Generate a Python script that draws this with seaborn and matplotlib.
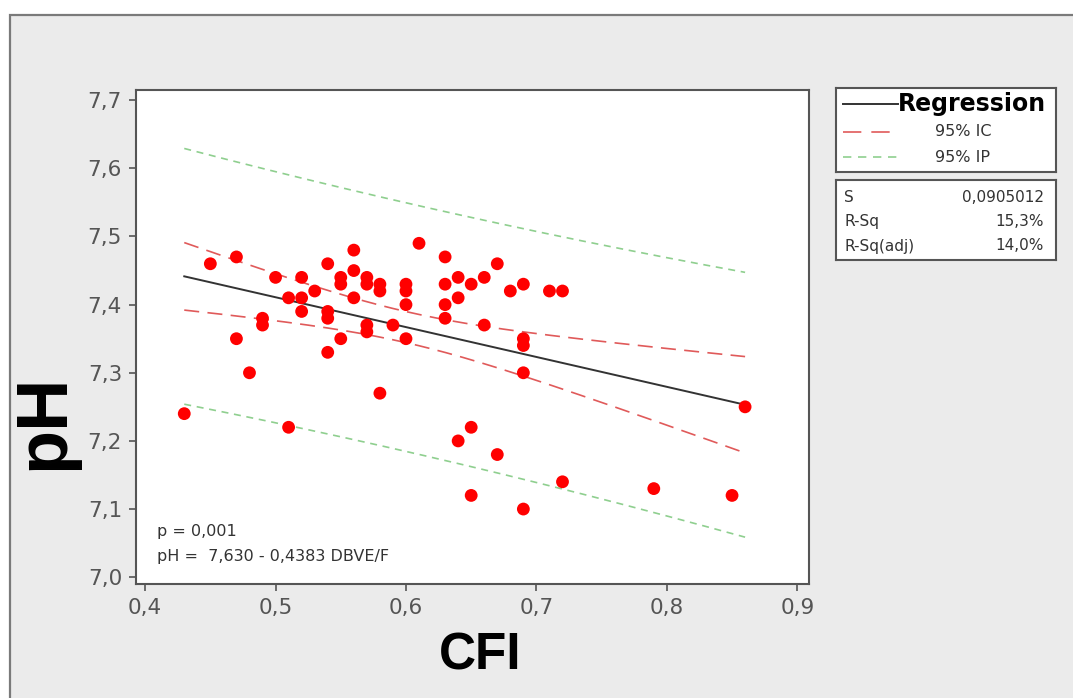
"""Scatter of pH against CFI with fitted regression line, 95% CI and 95% PI bands."""
import matplotlib
matplotlib.use("Agg")
import matplotlib.pyplot as plt
from matplotlib.patches import Rectangle
from matplotlib.ticker import FuncFormatter, MultipleLocator
import numpy as np
import pandas as pd
import seaborn as sns

# values
cfi = [0.43, 0.45, 0.47, 0.47, 0.48, 0.49, 0.49, 0.50, 0.51, 0.51,
       0.52, 0.52, 0.52, 0.53, 0.54, 0.54, 0.54, 0.54, 0.55, 0.55,
       0.55, 0.56, 0.56, 0.56, 0.57, 0.57, 0.57, 0.57, 0.58, 0.58,
       0.58, 0.59, 0.60, 0.60, 0.60, 0.60, 0.61, 0.63, 0.63, 0.63,
       0.63, 0.64, 0.64, 0.64, 0.65, 0.65, 0.65, 0.66, 0.66, 0.67,
       0.67, 0.68, 0.69, 0.69, 0.69, 0.69, 0.69, 0.71, 0.72, 0.72,
       0.79, 0.85, 0.86]
ph = [7.24, 7.46, 7.47, 7.35, 7.30, 7.38, 7.37, 7.44, 7.41, 7.22,
      7.44, 7.41, 7.39, 7.42, 7.46, 7.39, 7.38, 7.33, 7.44, 7.43,
      7.35, 7.48, 7.45, 7.41, 7.44, 7.43, 7.37, 7.36, 7.43, 7.42,
      7.27, 7.37, 7.43, 7.42, 7.40, 7.35, 7.49, 7.47, 7.43, 7.40,
      7.38, 7.44, 7.41, 7.20, 7.43, 7.22, 7.12, 7.44, 7.37, 7.46,
      7.18, 7.42, 7.43, 7.35, 7.34, 7.30, 7.10, 7.42, 7.42, 7.14,
      7.13, 7.12, 7.25]

# regression summary printed on the chart
INTERCEPT = 7.630
SLOPE = -0.4383
S_RESID = 0.0905012
T_CRIT = 2.0
stats_labels = ["S", "R-Sq", "R-Sq(adj)"]
stats_values = ["0,0905012", "15,3%", "14,0%"]

W, H = 1073, 698
RED_DASH = "#e05a5a"
GREEN_DASH = "#8fcf8f"
plt.rcParams["font.family"] = ["DejaVu Sans"]

df = pd.DataFrame({"CFI": cfi, "pH": ph})
x = df["CFI"].to_numpy()
n = len(x)
xbar = x.mean()
sxx = ((x - xbar) ** 2).sum()
grid = np.linspace(x.min(), x.max(), 200)
fit = INTERCEPT + SLOPE * grid
se_mean = S_RESID * np.sqrt(1 / n + (grid - xbar) ** 2 / sxx)
se_pred = S_RESID * np.sqrt(1 + 1 / n + (grid - xbar) ** 2 / sxx)
bands = pd.DataFrame({"x": grid, "fit": fit,
                      "ci_lo": fit - T_CRIT * se_mean, "ci_hi": fit + T_CRIT * se_mean,
                      "pi_lo": fit - T_CRIT * se_pred, "pi_hi": fit + T_CRIT * se_pred})

fig = plt.figure(figsize=(W / 100, H / 100), dpi=100, facecolor="white")
fig.patches.append(Rectangle((10 / W, -0.01), 1.0, 1 - 15 / H + 0.01, transform=fig.transFigure,
                             facecolor="#ebebeb", edgecolor="#7a7a7a", linewidth=1.6, zorder=-5))

ax = fig.add_axes([136 / W, (H - 584) / H, (809 - 136) / W, (584 - 90) / H])
ax.set_facecolor("white")

sns.lineplot(data=bands, x="x", y="pi_hi", ax=ax, color=GREEN_DASH, lw=1.2, dashes=(4.2, 3.4))
sns.lineplot(data=bands, x="x", y="pi_lo", ax=ax, color=GREEN_DASH, lw=1.2, dashes=(4.2, 3.4))
sns.lineplot(data=bands, x="x", y="ci_hi", ax=ax, color=RED_DASH, lw=1.2, dashes=(9, 5))
sns.lineplot(data=bands, x="x", y="ci_lo", ax=ax, color=RED_DASH, lw=1.2, dashes=(9, 5))
sns.lineplot(data=bands, x="x", y="fit", ax=ax, color="#333333", lw=1.4)
sns.scatterplot(data=df, x="CFI", y="pH", ax=ax, color="#ff0000", s=85, edgecolor="none", zorder=5)

ax.set_xlim(0.393, 0.909)
ax.set_ylim(6.99, 7.715)
ax.xaxis.set_major_locator(MultipleLocator(0.1))
ax.yaxis.set_major_locator(MultipleLocator(0.1))
comma = FuncFormatter(lambda v, _: f"{v:.1f}".replace(".", ","))
ax.xaxis.set_major_formatter(comma)
ax.yaxis.set_major_formatter(comma)
ax.tick_params(direction="out", length=5, width=1.2, color="#555555",
               labelcolor="#555555", labelsize=15.5, left=True, bottom=True)
ax.tick_params(axis="y", pad=5)
ax.tick_params(axis="x", pad=5)
ax.set_xlabel("")
ax.set_ylabel("")
for sp in ax.spines.values():
    sp.set_color("#555555")
    sp.set_linewidth(1.5)

ax.text(0.031, 0.107, "p = 0,001", transform=ax.transAxes, fontsize=11.5,
        color="#333333", va="center")
ax.text(0.031, 0.055, "pH =  7,630 - 0,4383 DBVE/F", transform=ax.transAxes,
        fontsize=11.5, color="#333333", va="center")

fig.text(44 / W, 1 - 422 / H, "pH", rotation=90, ha="center", va="center",
         fontsize=52, fontweight="bold", family="Liberation Sans")
fig.text(480 / W, 1 - 656 / H, "CFI", ha="center", va="center",
         fontsize=37, fontweight="bold", family="Liberation Sans")

# legend box
leg = fig.add_axes([836 / W, (H - 172) / H, 220 / W, 84 / H])
leg.set_xlim(0, 220)
leg.set_ylim(84, 0)
leg.set_xticks([])
leg.set_yticks([])
leg.set_facecolor("white")
for sp in leg.spines.values():
    sp.set_color("#555555")
    sp.set_linewidth(1.5)
leg.plot([7, 62], [16, 16], color="#333333", lw=1.4)
leg.text(62, 16, "Regression", fontsize=17, fontweight="bold", va="center", ha="left")
leg.plot([7, 62], [44, 44], color=RED_DASH, lw=1.2, dashes=(11, 6))
leg.text(99, 44, "95% IC", fontsize=11.5, color="#333333", va="center")
leg.plot([7, 62], [69, 69], color=GREEN_DASH, lw=1.2, dashes=(5, 4))
leg.text(99, 69, "95% IP", fontsize=11.5, color="#333333", va="center")

# stats box
st = fig.add_axes([836 / W, (H - 260) / H, 220 / W, 80 / H])
st.set_xlim(0, 220)
st.set_ylim(80, 0)
st.set_xticks([])
st.set_yticks([])
st.set_facecolor("white")
for sp in st.spines.values():
    sp.set_color("#555555")
    sp.set_linewidth(1.5)
for i, (lab, val) in enumerate(zip(stats_labels, stats_values)):
    yy = 17 + i * 24.5
    st.text(8, yy, lab, fontsize=11, color="#333333", va="center", ha="left")
    st.text(208, yy, val, fontsize=11, color="#333333", va="center", ha="right")

fig.savefig("out.png", dpi=100, facecolor=fig.get_facecolor())
